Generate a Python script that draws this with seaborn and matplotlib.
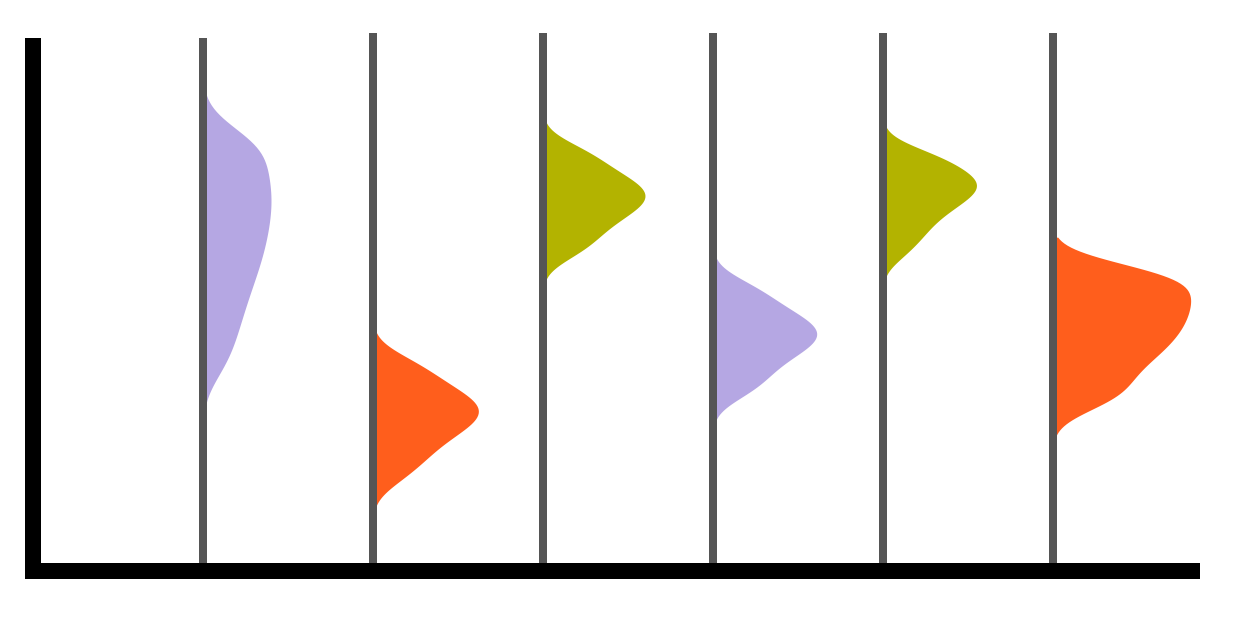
import numpy as np
import pandas as pd
import seaborn as sns
import matplotlib.pyplot as plt
from matplotlib.patches import Rectangle

# six groups, one half violin each
groups = ["g1", "g2", "g3", "g4", "g5", "g6"]

g1 = [38.6, 42.6, 45.7, 48.6, 51.1, 53.4, 55.6, 57.5, 59.3, 61.1, 62.8, 64.4,
      66.0, 67.6, 69.1, 70.7, 72.2, 73.6, 75.2, 76.9, 78.7, 80.4, 81.8, 83.0]
g2 = [17.3, 19.9, 21.5, 23.2, 24.6, 25.8, 26.9, 27.8, 28.7, 29.5, 30.3, 31.0,
      31.8, 32.7, 33.5, 34.5, 35.7, 37.2, 38.7, 40.4]
g3 = [60.1, 62.0, 63.4, 65.0, 66.2, 67.3, 68.3, 69.1, 70.0, 70.7, 71.4, 72.1,
      72.8, 73.7, 74.4, 75.4, 76.5, 77.9, 79.3, 80.8]
g4 = [33.5, 35.4, 36.9, 38.5, 39.8, 40.9, 42.0, 42.8, 43.6, 44.4, 45.1, 45.8,
      46.6, 47.4, 48.2, 49.2, 50.3, 51.8, 53.2, 54.9]
g5 = [60.2, 62.7, 64.3, 65.9, 67.3, 68.4, 69.5, 70.3, 71.2, 71.9, 72.7, 73.3,
      73.9, 74.6, 75.3, 76.0, 77.0, 78.1, 79.0, 80.0]
g6 = [31.5, 33.0, 34.6, 36.1, 37.6, 39.1, 40.2, 41.4, 42.4, 43.4, 44.4, 45.3,
      46.2, 47.1, 48.0, 48.8, 49.7, 50.5, 51.4, 52.2, 53.0, 53.9, 54.8, 55.6,
      56.4, 57.1, 57.8]
values = [g1, g2, g3, g4, g5, g6]

colors = ["#B5A7E3", "#FF5E1C", "#B3B300", "#B5A7E3", "#B3B300", "#FF5E1C"]
half_widths = [0.40, 0.62, 0.60, 0.61, 0.55, 0.81]
bw_adjusts = [0.6, 0.8, 0.8, 0.8, 0.8, 0.72]
line_tops = [101.5, 102.5, 102.5, 102.5, 102.5, 102.5]

df = pd.concat([pd.DataFrame({"group": g, "value": v}) for g, v in zip(groups, values)])

sns.set_style("white")
fig = plt.figure(figsize=(12.5, 6.26), dpi=100)
ax = fig.add_axes([0.0264, 0.0879, 0.9272, 0.8387])

for i, (g, c, hw, bw) in enumerate(zip(groups, colors, half_widths, bw_adjusts)):
    sub = df[df["group"] == g]
    sns.violinplot(data=sub, x="group", y="value", order=groups, color=c, saturation=1,
                   width=2 * hw, density_norm="width", cut=2, inner=None, linewidth=0,
                   bw_adjust=bw, ax=ax)
    # keep only the right half of the violin
    ax.collections[-1].set_clip_path(Rectangle((i, -10), 2, 130, transform=ax.transData))

ax.vlines(np.arange(len(groups)), -1.52, line_tops, colors="#555555", linewidth=5.76,
          zorder=2, clip_on=False)

ax.set_xlim(-1, 5.818)
ax.set_ylim(0, 100)
ax.set_xticks([])
ax.set_yticks([])
ax.set_xlabel("")
ax.set_ylabel("")
for side in ["top", "right"]:
    ax.spines[side].set_visible(False)
for side in ["left", "bottom"]:
    ax.spines[side].set_linewidth(11.52)
    ax.spines[side].set_color("black")
    ax.spines[side].set_capstyle("projecting")

fig.savefig("out.png", dpi=100)
